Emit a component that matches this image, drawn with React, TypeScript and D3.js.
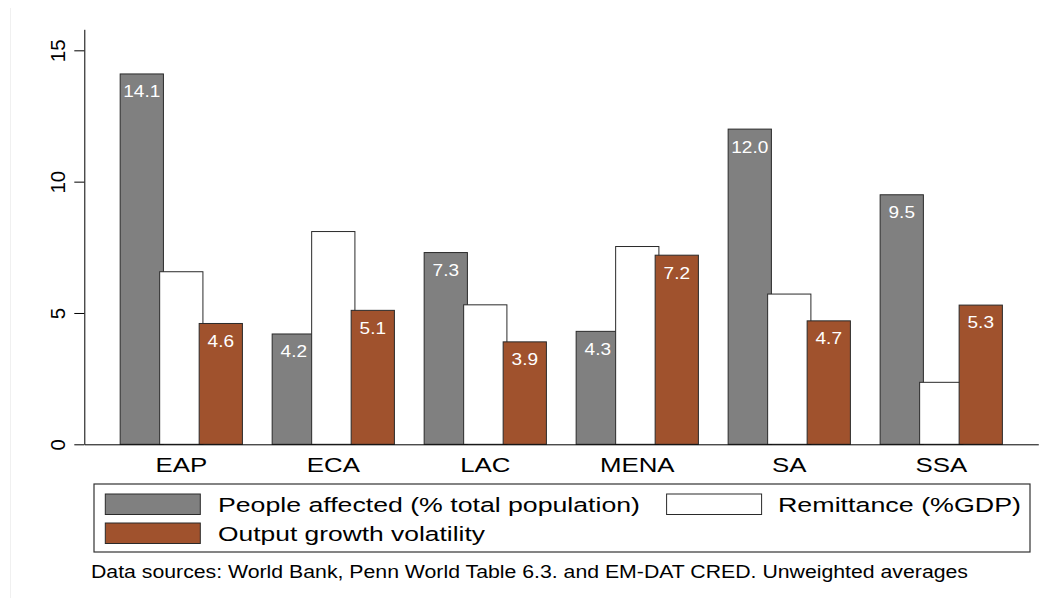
import { useEffect, useRef } from "react";
import * as d3 from "d3";

const regions = ["EAP", "ECA", "LAC", "MENA", "SA", "SSA"];
const peopleAffected = [14.1, 4.2, 7.3, 4.3, 12.0, 9.5];
const remittance = [6.57, 8.1, 5.31, 7.53, 5.72, 2.36];
const outputVolatility = [4.6, 5.1, 3.9, 7.2, 4.7, 5.3];
const seriesNames = [
  "People affected (% total population)",
  "Remittance (%GDP)",
  "Output growth volatility",
];
const yTicks = [0, 5, 10, 15];
const footnote =
  "Data sources: World Bank, Penn World Table 6.3. and EM-DAT CRED. Unweighted averages";

const FONT = "'Liberation Sans', Arial, Helvetica, sans-serif";

const App = () => {
  const ref = useRef<HTMLDivElement | null>(null);

  function chartRender(svg: any) {
    const width = 1053;
    const height = 598;
    const left = 84.3;
    const right = 1038.3;
    const bottom = 444.3;

    svg.attr("width", width).attr("height", height).style("position", "absolute")
      .style("left", "0px").style("top", "0px").style("background", "#fff");

    // faint outer frame edge
    svg.append("line").attr("x1", 10.5).attr("x2", 10.5).attr("y1", 8).attr("y2", height)
      .attr("stroke", "#f0f0f0");

    const series = [
      { name: seriesNames[0], values: peopleAffected, fill: "#808080", label: true },
      { name: seriesNames[1], values: remittance, fill: "#ffffff", label: false },
      { name: seriesNames[2], values: outputVolatility, fill: "#a0522d", label: true },
    ];

    const y = d3.scaleLinear().domain([0, 15.8]).range([bottom, 29.3]);
    const x = d3.scaleBand().domain(regions).range([left, right])
      .paddingInner(0.1954).paddingOuter(0.236);
    const sub = d3.scaleBand().domain(["0", "1", "2"]).range([0, x.bandwidth() - 3.8]);
    const barWidth = sub.step() * 1.095;
    const fmt = d3.format(".1f");

    // bars
    series.forEach((s, si) => {
      const g = svg.append("g");
      g.selectAll("rect").data(s.values).enter().append("rect")
        .attr("x", (_d: number, i: number) => (x(regions[i]) as number) + (sub(String(si)) as number))
        .attr("y", (d: number) => y(d))
        .attr("width", barWidth)
        .attr("height", (d: number) => bottom - y(d))
        .attr("fill", s.fill)
        .attr("stroke", "#2a2a2a")
        .attr("stroke-width", 1);
      if (s.label) {
        g.selectAll("text").data(s.values).enter().append("text")
          .attr("transform", (d: number, i: number) => {
            const cx = (x(regions[i]) as number) + (sub(String(si)) as number) + barWidth / 2;
            return `translate(${cx},${y(d) + 23.4}) scale(1.12,1)`;
          })
          .attr("text-anchor", "middle")
          .attr("fill", "#fff")
          .attr("font-family", FONT)
          .attr("font-size", 17)
          .text((d: number) => fmt(d));
      }
    });

    // y axis
    const yAxis = d3.axisLeft(y).tickValues(yTicks).tickSize(10).tickSizeOuter(0)
      .tickFormat((d: any) => String(d));
    const gy = svg.append("g").attr("transform", `translate(${left},0)`).call(yAxis);
    gy.select(".domain").attr("stroke", "#000");
    gy.selectAll(".tick line").attr("stroke", "#000");
    gy.selectAll(".tick text")
      .attr("x", null).attr("dy", null)
      .attr("transform", "translate(-19.3,0) rotate(-90)")
      .attr("text-anchor", "middle")
      .attr("fill", "#000")
      .attr("font-family", FONT)
      .attr("font-size", 20.5);

    // x axis
    const xAxis = d3.axisBottom(x).tickSize(0).tickSizeOuter(0);
    const gx = svg.append("g").attr("transform", `translate(0,${bottom})`).call(xAxis);
    gx.select(".domain").attr("stroke", "#000");
    gx.selectAll(".tick text")
      .attr("y", null).attr("dy", null)
      .attr("transform", "translate(0,27.7) scale(1.23,1)")
      .attr("text-anchor", "middle")
      .attr("fill", "#000")
      .attr("font-family", FONT)
      .attr("font-size", 21);

    // legend
    const lg = svg.append("g");
    lg.append("rect").attr("x", 94).attr("y", 484).attr("width", 936).attr("height", 68)
      .attr("fill", "#fff").attr("stroke", "#333").attr("stroke-width", 1.2);
    const items = [
      { s: series[0], sx: 105.3, sy: 494, tx: 218, tl: 422 },
      { s: series[1], sx: 666.6, sy: 494, tx: 778, tl: 243 },
      { s: series[2], sx: 105.3, sy: 523, tx: 218, tl: 267 },
    ];
    items.forEach((it) => {
      lg.append("rect").attr("x", it.sx).attr("y", it.sy).attr("width", 95).attr("height", 20.5)
        .attr("fill", it.s.fill).attr("stroke", "#2a2a2a").attr("stroke-width", 1);
      lg.append("text").attr("x", it.tx).attr("y", it.sy + 17.7)
        .attr("font-family", FONT).attr("font-size", 20.5).attr("fill", "#000")
        .attr("textLength", it.tl).attr("lengthAdjust", "spacingAndGlyphs")
        .text(it.s.name);
    });

    // footnote
    svg.append("text").attr("x", 91).attr("y", 577.5)
      .attr("font-family", FONT).attr("font-size", 17.5).attr("fill", "#000")
      .attr("textLength", 877).attr("lengthAdjust", "spacingAndGlyphs")
      .text(footnote);
  }

  useEffect(() => {
    if (ref.current) {
      const svg = d3.select(ref.current).append("svg");
      chartRender(svg);
      return () => {
        svg.remove();
      };
    }
  }, []);

  return <div ref={ref}></div>;
};

export default App;
